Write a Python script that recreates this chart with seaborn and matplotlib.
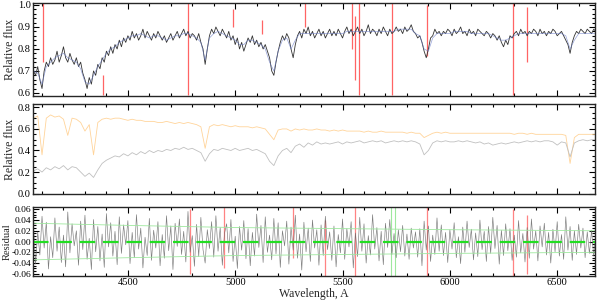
import numpy as np
import pandas as pd
import matplotlib
matplotlib.use("Agg")
import matplotlib.pyplot as plt
import seaborn as sns
from matplotlib.ticker import MultipleLocator

# wavelength grids (Angstrom)
wave10 = np.arange(4060, 6690, 10)
wave20 = np.arange(4060, 6690, 20)

# top panel: observed spectrum (10 A step)
obs_flux = [
    0.70, 0.68, 0.72, 0.66, 0.62, 0.70, 0.74, 0.72, 0.76, 0.73,
    0.75, 0.79, 0.74, 0.77, 0.81, 0.76, 0.74, 0.78, 0.75, 0.73,
    0.76, 0.72, 0.74, 0.69, 0.66, 0.62, 0.67, 0.64, 0.70, 0.68,
    0.73, 0.71, 0.76, 0.74, 0.79, 0.77, 0.81, 0.78, 0.82, 0.80,
    0.84, 0.81, 0.85, 0.83, 0.86, 0.84, 0.88, 0.85, 0.87, 0.84,
    0.86, 0.89, 0.85, 0.88, 0.86, 0.84, 0.87, 0.85, 0.88, 0.86,
    0.84, 0.86, 0.83, 0.85, 0.87, 0.84, 0.86, 0.88, 0.85, 0.87,
    0.89, 0.86, 0.88, 0.85, 0.87, 0.86, 0.84, 0.87, 0.83, 0.80,
    0.73, 0.80, 0.86, 0.89, 0.87, 0.90, 0.88, 0.86, 0.89, 0.87,
    0.85, 0.88, 0.84, 0.86, 0.82, 0.85, 0.80, 0.83, 0.79, 0.82,
    0.85, 0.83, 0.86, 0.82, 0.84, 0.81, 0.83, 0.80, 0.82, 0.79,
    0.76, 0.70, 0.68, 0.74, 0.79, 0.83, 0.86, 0.84, 0.87, 0.85,
    0.80, 0.76, 0.82, 0.86, 0.88, 0.85, 0.89, 0.87, 0.90, 0.86,
    0.88, 0.85, 0.87, 0.89, 0.86, 0.88, 0.85, 0.87, 0.89, 0.86,
    0.88, 0.86, 0.89, 0.87, 0.85, 0.88, 0.90, 0.87, 0.89, 0.86,
    0.88, 0.90, 0.87, 0.89, 0.86, 0.88, 0.91, 0.87, 0.89, 0.88,
    0.86, 0.89, 0.87, 0.90, 0.88, 0.86, 0.89, 0.87, 0.88, 0.90,
    0.88, 0.89, 0.87, 0.90, 0.88, 0.89, 0.91, 0.88, 0.87, 0.85,
    0.86, 0.83, 0.79, 0.76, 0.80, 0.85, 0.86, 0.89, 0.87, 0.88,
    0.86, 0.88, 0.87, 0.89, 0.88, 0.86, 0.89, 0.87, 0.88, 0.90,
    0.87, 0.88, 0.86, 0.89, 0.87, 0.88, 0.86, 0.89, 0.88, 0.87,
    0.86, 0.88, 0.87, 0.85, 0.87, 0.86, 0.84, 0.86, 0.83, 0.81,
    0.84, 0.82, 0.86, 0.85, 0.87, 0.88, 0.86, 0.89, 0.87, 0.88,
    0.86, 0.88, 0.87, 0.89, 0.88, 0.86, 0.89, 0.87, 0.88, 0.86,
    0.88, 0.87, 0.89, 0.88, 0.86, 0.87, 0.88, 0.86, 0.84, 0.82,
    0.78, 0.83, 0.86, 0.88, 0.87, 0.89, 0.88, 0.87, 0.89, 0.88,
    0.87, 0.89, 0.88,
]

# top panel: best-fit model (20 A step)
model_flux = [
    0.70, 0.69, 0.64, 0.72, 0.74, 0.76, 0.77, 0.78, 0.76, 0.75,
    0.74, 0.71, 0.65, 0.64, 0.68, 0.72, 0.75, 0.78, 0.80, 0.81,
    0.83, 0.84, 0.85, 0.86, 0.86, 0.87, 0.86, 0.85, 0.86, 0.86,
    0.85, 0.84, 0.85, 0.86, 0.86, 0.87, 0.87, 0.86, 0.85, 0.83,
    0.75, 0.85, 0.87, 0.88, 0.87, 0.86, 0.85, 0.84, 0.82, 0.82,
    0.84, 0.84, 0.83, 0.82, 0.80, 0.74, 0.70, 0.79, 0.84, 0.85,
    0.80, 0.84, 0.87, 0.87, 0.87, 0.87, 0.87, 0.87, 0.87, 0.87,
    0.87, 0.87, 0.87, 0.88, 0.88, 0.88, 0.88, 0.88, 0.88, 0.88,
    0.88, 0.88, 0.88, 0.88, 0.88, 0.89, 0.89, 0.89, 0.89, 0.87,
    0.86, 0.80, 0.79, 0.85, 0.87, 0.87, 0.87, 0.87, 0.88, 0.88,
    0.88, 0.88, 0.87, 0.87, 0.87, 0.87, 0.87, 0.86, 0.85, 0.84,
    0.84, 0.85, 0.86, 0.87, 0.87, 0.87, 0.87, 0.87, 0.87, 0.87,
    0.87, 0.87, 0.87, 0.87, 0.86, 0.80, 0.84, 0.87, 0.87, 0.87,
    0.87, 0.87,
]

# masked pixels in the top panel: wavelength, low, high
top_mask_wave = [4105, 4384, 4780, 4990, 5125, 5325, 5544, 5558, 5576, 5730, 5893, 6294, 6359]
top_mask_lo = [0.74, 0.59, 0.59, 0.90, 0.87, 0.90, 0.80, 0.66, 0.59, 0.59, 0.77, 0.59, 0.74]
top_mask_hi = [1.01, 0.68, 1.01, 0.98, 0.93, 1.01, 1.01, 0.95, 1.01, 1.01, 1.00, 1.01, 0.99]

# middle panel: two components (20 A step)
comp_orange = [
    0.70, 0.72, 0.36, 0.70, 0.73, 0.71, 0.72, 0.69, 0.54, 0.70,
    0.69, 0.66, 0.58, 0.64, 0.36, 0.66, 0.69, 0.70, 0.69, 0.70,
    0.70, 0.69, 0.68, 0.69, 0.68, 0.68, 0.67, 0.67, 0.67, 0.66,
    0.66, 0.67, 0.66, 0.65, 0.66, 0.65, 0.66, 0.65, 0.64, 0.62,
    0.42, 0.62, 0.64, 0.63, 0.64, 0.63, 0.62, 0.63, 0.62, 0.62,
    0.62, 0.61, 0.62, 0.61, 0.60, 0.55, 0.50, 0.59, 0.60, 0.60,
    0.58, 0.60, 0.59, 0.60, 0.59, 0.59, 0.60, 0.59, 0.59, 0.58,
    0.59, 0.58, 0.59, 0.58, 0.58, 0.58, 0.58, 0.57, 0.58, 0.57,
    0.57, 0.58, 0.57, 0.57, 0.57, 0.57, 0.57, 0.56, 0.57, 0.56,
    0.56, 0.52, 0.54, 0.56, 0.57, 0.56, 0.57, 0.56, 0.56, 0.56,
    0.56, 0.56, 0.56, 0.56, 0.56, 0.56, 0.56, 0.56, 0.56, 0.56,
    0.56, 0.56, 0.55, 0.56, 0.56, 0.55, 0.56, 0.55, 0.55, 0.55,
    0.55, 0.55, 0.55, 0.55, 0.54, 0.28, 0.52, 0.55, 0.55, 0.55,
    0.55, 0.55,
]
comp_gray = [
    0.21, 0.23, 0.20, 0.24, 0.22, 0.25, 0.23, 0.26, 0.22, 0.25,
    0.24, 0.20, 0.16, 0.19, 0.15, 0.22, 0.28, 0.31, 0.33, 0.35,
    0.34, 0.37, 0.35, 0.38, 0.36, 0.39, 0.37, 0.40, 0.38, 0.40,
    0.39, 0.41, 0.40, 0.42, 0.41, 0.43, 0.41, 0.42, 0.40, 0.38,
    0.30, 0.37, 0.41, 0.40, 0.42, 0.41, 0.40, 0.42, 0.40, 0.41,
    0.42, 0.40, 0.41, 0.39, 0.37, 0.30, 0.26, 0.35, 0.40, 0.42,
    0.38, 0.44, 0.46, 0.43, 0.47, 0.45, 0.48, 0.46, 0.47, 0.46,
    0.47, 0.48, 0.46, 0.48, 0.47, 0.48, 0.49, 0.47, 0.48, 0.49,
    0.48, 0.49, 0.47, 0.48, 0.49, 0.48, 0.49, 0.48, 0.49, 0.48,
    0.46, 0.36, 0.40, 0.47, 0.49, 0.48, 0.49, 0.48, 0.48, 0.49,
    0.48, 0.49, 0.48, 0.47, 0.48, 0.46, 0.47, 0.45, 0.46, 0.47,
    0.46, 0.47, 0.48, 0.47, 0.48, 0.49, 0.48, 0.49, 0.48, 0.49,
    0.49, 0.48, 0.45, 0.48, 0.47, 0.34, 0.47, 0.49, 0.50, 0.49,
    0.50, 0.50,
]

# bottom panel: residuals (10 A step)
resid = [
    0.031, -0.042, 0.018, -0.025, 0.047, -0.012, 0.036, -0.051, 0.009, -0.030,
    0.044, -0.018, 0.027, -0.039, 0.012, -0.047, 0.055, -0.021, 0.033, -0.008,
    0.020, -0.044, 0.038, -0.015, 0.049, -0.033, 0.006, -0.052, 0.041, -0.019,
    0.028, -0.036, 0.014, -0.048, 0.052, -0.010, 0.035, -0.027, 0.019, -0.043,
    0.046, -0.022, 0.031, -0.006, 0.039, -0.041, 0.017, -0.030, 0.050, -0.014,
    0.025, -0.049, 0.008, -0.026, 0.043, -0.035, 0.021, -0.012, 0.037, -0.045,
    0.013, -0.031, 0.048, -0.017, 0.029, -0.052, 0.034, -0.009, 0.042, -0.024,
    0.019, -0.038, 0.056, -0.020, 0.011, -0.046, 0.032, -0.028, 0.045, -0.015,
    -0.040, 0.022, -0.013, 0.037, -0.029, 0.048, -0.018, 0.026, -0.044, 0.015,
    0.033, -0.021, 0.041, -0.037, 0.010, -0.050, 0.028, -0.016, 0.039, -0.032,
    0.024, -0.045, 0.017, -0.027, 0.051, -0.011, 0.030, -0.039, 0.046, -0.020,
    0.012, -0.034, 0.043, -0.023, 0.035, -0.048, 0.020, -0.008, 0.038, -0.042,
    0.027, -0.016, 0.049, -0.031, 0.014, -0.053, 0.036, -0.019, 0.025, -0.037,
    0.040, -0.012, 0.022, -0.044, 0.031, -0.026, 0.047, -0.015, 0.018, -0.035,
    0.029, -0.047, 0.013, -0.021, 0.042, -0.033, 0.024, -0.010, 0.037, -0.049,
    0.016, -0.028, 0.045, -0.018, 0.033, -0.040, 0.011, -0.025, 0.050, -0.014,
    0.026, -0.036, 0.019, -0.043, 0.034, -0.011, 0.041, -0.024, 0.015, -0.030,
    0.022, -0.019, 0.030, -0.027, 0.014, -0.033, 0.025, -0.012, 0.018, -0.029,
    0.024, -0.045, 0.038, -0.016, 0.029, -0.037, 0.012, -0.024, 0.044, -0.018,
    0.031, -0.026, 0.017, -0.039, 0.022, -0.014, 0.035, -0.030, 0.009, -0.041,
    0.027, -0.020, 0.038, -0.011, 0.023, -0.034, 0.016, -0.028, 0.040, -0.015,
    0.019, -0.037, 0.028, -0.022, 0.045, -0.013, 0.030, -0.042, 0.021, -0.026,
    0.033, -0.017, 0.024, -0.035, 0.012, -0.029, 0.039, -0.021, 0.015, -0.038,
    0.026, -0.031, 0.042, -0.014, 0.020, -0.036, 0.029, -0.010, 0.034, -0.025,
    0.017, -0.040, 0.023, -0.019, 0.037, -0.027, 0.013, -0.033, 0.046, -0.016,
    0.028, -0.035, 0.020, -0.024, 0.032, -0.012, 0.025, -0.030, 0.018, -0.022,
    0.021, -0.027, 0.015,
]

# residual envelope (noise level)
err_wave = [4060, 4500, 5000, 5500, 6000, 6680]
err_level = [0.034, 0.030, 0.026, 0.024, 0.022, 0.020]

# masked pixels in the residual panel
res_mask_wave = [4790, 4950, 5270, 5420, 5560, 5893, 6294, 6359]
res_mask_lo = [-0.060, -0.050, -0.030, -0.064, -0.064, -0.064, -0.064, -0.060]
res_mask_hi = [0.060, 0.064, 0.064, 0.040, 0.064, 0.064, 0.060, 0.050]
green_wave = [5728, 5745]

sns.set_style("ticks")
plt.rcParams["font.family"] = ["Liberation Serif", "DejaVu Serif"]
plt.rcParams["xtick.direction"] = "in"
plt.rcParams["ytick.direction"] = "in"

fig = plt.figure(figsize=(6.0, 3.01), dpi=100)
ax1 = fig.add_axes([0.055, 0.681, 0.937, 0.309])
ax2 = fig.add_axes([0.055, 0.355, 0.937, 0.299])
ax3 = fig.add_axes([0.055, 0.083, 0.937, 0.229])

top_df = pd.DataFrame({"wave": wave10, "flux": obs_flux})
model_df = pd.DataFrame({"wave": wave20, "flux": model_flux})
mid_df = pd.DataFrame({"wave": wave20, "orange": comp_orange, "gray": comp_gray})
res_df = pd.DataFrame({"wave": wave10, "resid": resid})

red = "#ff6464"
pale_green = "#9ee89e"

ax1.vlines(top_mask_wave, top_mask_lo, top_mask_hi, color=red, lw=0.9)
sns.lineplot(data=top_df, x="wave", y="flux", ax=ax1, color="#333333", lw=0.6, estimator=None)
sns.lineplot(data=model_df, x="wave", y="flux", ax=ax1, color="#6a7cc8", lw=0.5, alpha=0.7, estimator=None)

sns.lineplot(data=mid_df, x="wave", y="orange", ax=ax2, color="#ffd49a", lw=0.6, estimator=None)
sns.lineplot(data=mid_df, x="wave", y="gray", ax=ax2, color="#c0c0c0", lw=0.6, estimator=None)

ax3.vlines(green_wave, -0.064, 0.064, color=pale_green, lw=0.8)
ax3.vlines(res_mask_wave, res_mask_lo, res_mask_hi, color=red, lw=0.9, alpha=0.8)
sns.lineplot(data=res_df, x="wave", y="resid", ax=ax3, color="#666666", lw=0.45, alpha=0.85, estimator=None)
ax3.plot(err_wave, err_level, color=pale_green, lw=0.6)
ax3.plot(err_wave, [-e for e in err_level], color=pale_green, lw=0.6)
ax3.axhline(0, color="#22dd22", lw=1.6, dashes=(7, 3.5))

ax1.set_ylim(0.586, 1.009)
ax2.set_ylim(-0.005, 0.83)
ax3.set_ylim(-0.064, 0.064)
ax1.yaxis.set_minor_locator(MultipleLocator(0.02))
ax2.yaxis.set_minor_locator(MultipleLocator(0.05))
ax3.yaxis.set_minor_locator(MultipleLocator(0.005))
ax1.set_yticks([0.6, 0.7, 0.8, 0.9, 1.0])
ax2.set_yticks([0.0, 0.2, 0.4, 0.6, 0.8])
ax3.set_yticks([-0.06, -0.04, -0.02, 0.0, 0.02, 0.04, 0.06])
ax3.set_yticklabels(["-0.06", "-0.04", "-0.02", "0.00", "0.02", "0.04", "0.06"])

for ax in (ax1, ax2, ax3):
    ax.set_xlim(4058, 6677)
    ax.xaxis.set_major_locator(MultipleLocator(500))
    ax.xaxis.set_minor_locator(MultipleLocator(100))
    ax.tick_params(which="both", top=True, right=True, direction="in", width=0.8,
                   labelsize=7.5, pad=1.5, colors="black")
    ax.tick_params(which="major", length=4)
    ax.tick_params(which="minor", length=2.5)
    for sp in ax.spines.values():
        sp.set_linewidth(1.0)
        sp.set_visible(True)
    ax.set_xlabel("")
    ax.set_ylabel("")

ax1.tick_params(labelbottom=False)
ax2.tick_params(labelbottom=False)
ax3.tick_params(axis="y", labelsize=6.8, pad=1)
ax1.set_ylabel("Relative flux", fontsize=8.5)
ax2.set_ylabel("Relative flux", fontsize=8.5)
ax3.set_ylabel("Residual", fontsize=7.6)
ax1.yaxis.set_label_coords(-0.031, 0.5)
ax2.yaxis.set_label_coords(-0.031, 0.5)
ax3.yaxis.set_label_coords(-0.0377, 0.5)
ax3.set_xlabel("Wavelength, A", fontsize=8.5, labelpad=1)

fig.savefig("out.png", dpi=100)
